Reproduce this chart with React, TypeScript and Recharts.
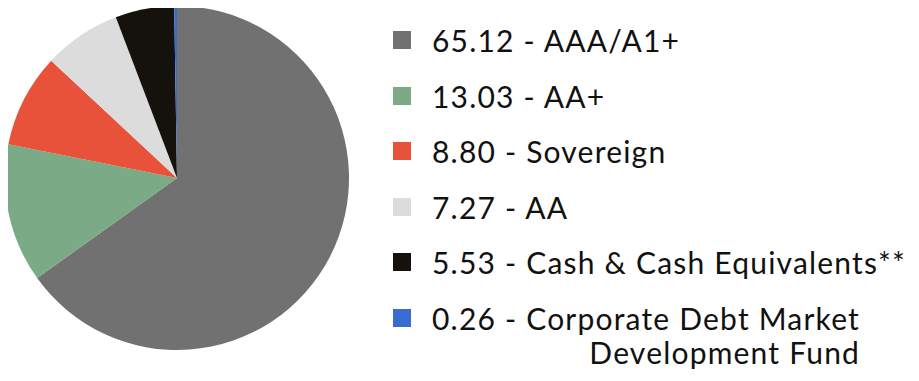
import { Cell, Legend, Pie, PieChart } from "recharts";

const ratings = [
  "AAA/A1+",
  "AA+",
  "Sovereign",
  "AA",
  "Cash & Cash Equivalents**",
  "Corporate Debt Market Development Fund",
];
const shares = [65.12, 13.03, 8.8, 7.27, 5.53, 0.26];
const colors = ["#717171", "#7aab86", "#e9523a", "#dcdcdc", "#15120e", "#3a6bd0"];
const legendLines = [
  ["65.12 - AAA/A1+"],
  ["13.03 - AA+"],
  ["8.80 - Sovereign"],
  ["7.27 - AA"],
  ["5.53 - Cash & Cash Equivalents**"],
  ["0.26 - Corporate Debt Market", "Development Fund"],
];

const data = ratings.map((name, i) => ({ name, value: shares[i] }));

function LegendContent() {
  return (
    <div
      style={{
        fontFamily: "Lato, sans-serif",
        fontSize: 30,
        letterSpacing: 1.2,
        color: "#111",
        lineHeight: "34px",
      }}
    >
      {legendLines.map((lines, i) => (
        <div key={i} style={{ display: "flex", alignItems: "flex-start", height: 55.5 }}>
          <span
            style={{
              width: 18,
              height: 18,
              background: colors[i],
              marginTop: 8,
              marginRight: 21,
              flex: "none",
            }}
          />
          <div>
            {lines.map((l, j) => (
              <div key={j} style={{ textAlign: j > 0 ? "right" : "left", whiteSpace: "nowrap" }}>{l}</div>
            ))}
          </div>
        </div>
      ))}
    </div>
  );
}

export default function App() {
  return (
    <PieChart width={911} height={373} margin={{ top: 0, right: 0, bottom: 0, left: 0 }}>
      <Pie
        data={data}
        dataKey="value"
        nameKey="name"
        cx={169}
        cy={170}
        outerRadius={172}
        startAngle={90}
        endAngle={-270}
        stroke="none"
        isAnimationActive={false}
      >
        {data.map((d, i) => (
          <Cell key={d.name} fill={colors[i]} />
        ))}
      </Pie>
      <Legend
        content={<LegendContent />}
        wrapperStyle={{ left: 385, top: 15, width: 525 }}
      />
    </PieChart>
  );
}
